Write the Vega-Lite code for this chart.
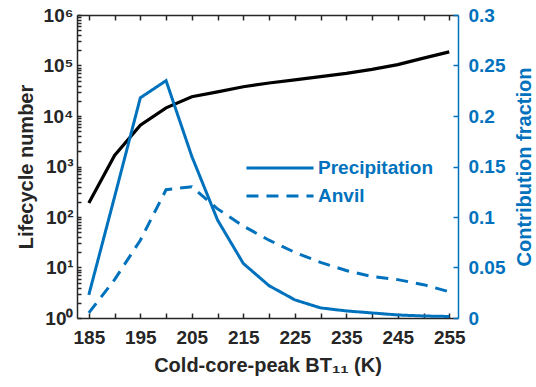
{
  "$schema": "https://vega.github.io/schema/vega-lite/v6.json",
  "width": 381,
  "height": 303,
  "autosize": "none",
  "padding": {"left": 77, "top": 15, "right": 78, "bottom": 69},
  "background": "white",
  "config": {
    "view": {"stroke": null},
    "font": "Liberation Sans",
    "axis": {"labelFont": "Liberation Sans", "titleFont": "Liberation Sans", "labelFontWeight": "bold", "titleFontWeight": "bold", "grid": false}
  },
  "datasets": {
    "life": [
      {"T": 185, "n": 190}, {"T": 190, "n": 1650}, {"T": 195, "n": 6600}, {"T": 200, "n": 14500},
      {"T": 205, "n": 24000}, {"T": 210, "n": 30000}, {"T": 215, "n": 38000}, {"T": 220, "n": 45000},
      {"T": 225, "n": 52000}, {"T": 230, "n": 60000}, {"T": 235, "n": 70000}, {"T": 240, "n": 84000},
      {"T": 245, "n": 104000}, {"T": 250, "n": 140000}, {"T": 255, "n": 186000}
    ],
    "frac": [
      {"T": 185, "s": "Precipitation", "v": 0.023}, {"T": 190, "s": "Precipitation", "v": 0.12},
      {"T": 195, "s": "Precipitation", "v": 0.218}, {"T": 200, "s": "Precipitation", "v": 0.235},
      {"T": 205, "s": "Precipitation", "v": 0.16}, {"T": 210, "s": "Precipitation", "v": 0.097},
      {"T": 215, "s": "Precipitation", "v": 0.054}, {"T": 220, "s": "Precipitation", "v": 0.032},
      {"T": 225, "s": "Precipitation", "v": 0.018}, {"T": 230, "s": "Precipitation", "v": 0.01},
      {"T": 235, "s": "Precipitation", "v": 0.007}, {"T": 240, "s": "Precipitation", "v": 0.005},
      {"T": 245, "s": "Precipitation", "v": 0.003}, {"T": 250, "s": "Precipitation", "v": 0.002},
      {"T": 255, "s": "Precipitation", "v": 0.0015},
      {"T": 185, "s": "Anvil", "v": 0.005}, {"T": 190, "s": "Anvil", "v": 0.038},
      {"T": 195, "s": "Anvil", "v": 0.077}, {"T": 200, "s": "Anvil", "v": 0.127},
      {"T": 205, "s": "Anvil", "v": 0.13}, {"T": 210, "s": "Anvil", "v": 0.108},
      {"T": 215, "s": "Anvil", "v": 0.091}, {"T": 220, "s": "Anvil", "v": 0.077},
      {"T": 225, "s": "Anvil", "v": 0.065}, {"T": 230, "s": "Anvil", "v": 0.055},
      {"T": 235, "s": "Anvil", "v": 0.047}, {"T": 240, "s": "Anvil", "v": 0.041},
      {"T": 245, "s": "Anvil", "v": 0.038}, {"T": 250, "s": "Anvil", "v": 0.033},
      {"T": 255, "s": "Anvil", "v": 0.026}
    ]
  },
  "layer": [
    {
      "data": {"name": "life"},
      "mark": {"type": "line", "color": "#000000", "strokeWidth": 3.2},
      "encoding": {
        "x": {
          "field": "T", "type": "quantitative",
          "scale": {"domain": [182.7, 256.7], "nice": false, "zero": false},
          "axis": {
            "orient": "bottom",
            "title": "Cold-core-peak BT₁₁ (K)",
            "values": [185, 190, 195, 200, 205, 210, 215, 220, 225, 230, 235, 240, 245, 250, 255],
            "labelExpr": "(datum.value - 185) % 10 == 0 ? datum.label : ''",
            "labelFontSize": 19, "labelColor": "#262626", "labelPadding": 15,
            "labelOverlap": false,
            "tickSize": -5, "tickColor": "#262626", "tickWidth": 1.5,
            "domainColor": "#262626", "domainWidth": 1.5,
            "titleFontSize": 20, "titleColor": "#262626", "titlePadding": 8
          }
        },
        "y": {
          "field": "n", "type": "quantitative",
          "scale": {"type": "log", "domain": [1, 1000000], "nice": false},
          "axis": {
            "orient": "left",
            "title": "Lifecycle number",
            "values": [1, 2, 3, 4, 5, 6, 7, 8, 9, 10, 20, 30, 40, 50, 60, 70, 80, 90, 100, 200, 300, 400, 500, 600, 700, 800, 900, 1000, 2000, 3000, 4000, 5000, 6000, 7000, 8000, 9000, 10000, 20000, 30000, 40000, 50000, 60000, 70000, 80000, 90000, 100000, 200000, 300000, 400000, 500000, 600000, 700000, 800000, 900000, 1000000],
            "labelExpr": "abs(log(datum.value)/LN10 - round(log(datum.value)/LN10)) < 0.000001 ? ['10⁰','10¹','10²','10³','10⁴','10⁵','10⁶'][round(log(datum.value)/LN10)] : ''",
            "labelOverlap": false,
            "labelFontSize": 19, "labelColor": "#262626", "labelPadding": 8,
            "tickSize": -4, "tickColor": "#262626", "tickWidth": 1.5,
            "domainColor": "#262626", "domainWidth": 1.5,
            "titleFontSize": 20, "titleColor": "#262626", "titlePadding": 6
          }
        }
      }
    },
    {
      "data": {"name": "frac"},
      "mark": {"type": "line", "color": "#0072BD", "strokeWidth": 3},
      "encoding": {
        "x": {
          "field": "T", "type": "quantitative",
          "scale": {"domain": [182.7, 256.7], "nice": false, "zero": false},
          "axis": {
            "orient": "top",
            "title": null,
            "values": [185, 190, 195, 200, 205, 210, 215, 220, 225, 230, 235, 240, 245, 250, 255],
            "labels": false,
            "tickSize": -5, "tickColor": "#262626", "tickWidth": 1.5,
            "domainColor": "#262626", "domainWidth": 1.5
          }
        },
        "y": {
          "field": "v", "type": "quantitative",
          "scale": {"domain": [0, 0.3], "nice": false},
          "axis": {
            "orient": "right",
            "title": "Contribution fraction",
            "values": [0, 0.05, 0.1, 0.15, 0.2, 0.25, 0.3],
            "labelExpr": "format(datum.value, '~g')",
            "labelFontSize": 19, "labelColor": "#0072BD", "labelPadding": 15,
            "labelOverlap": false,
            "tickSize": -5, "tickColor": "#0072BD", "tickWidth": 1.5,
            "domainColor": "#0072BD", "domainWidth": 1.5,
            "titleFontSize": 20, "titleColor": "#0072BD", "titleAngle": 270, "titleBaseline": "top", "titlePadding": 10
          }
        },
        "strokeDash": {
          "field": "s", "type": "nominal",
          "scale": {"domain": ["Precipitation", "Anvil"], "range": [[1, 0], [12, 8]]},
          "legend": {
            "title": null,
            "orient": "none",
            "legendX": 190,
            "legendY": 140,
            "padding": 0,
            "symbolType": "M-3,0H3",
            "symbolSize": 500,
            "symbolStrokeWidth": 3,
            "symbolStrokeColor": "#0072BD",
            "labelFontSize": 19,
            "labelFont": "Liberation Sans",
            "labelFontWeight": "bold",
            "labelColor": "#0072BD",
            "labelOffset": 25,
            "rowPadding": 5
          }
        }
      }
    }
  ],
  "resolve": {"scale": {"y": "independent"}, "axis": {"x": "independent", "y": "independent"}}
}
